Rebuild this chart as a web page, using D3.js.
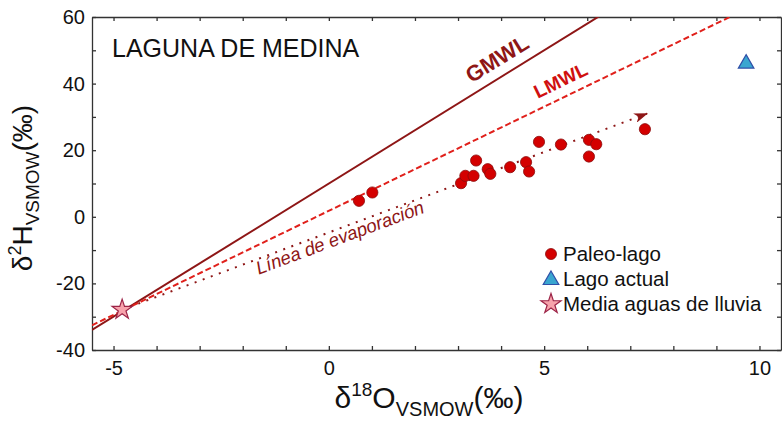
<!DOCTYPE html>
<html>
<head>
<meta charset="utf-8">
<script src="https://cdn.jsdelivr.net/npm/d3@7"></script>
<style>
  body { margin: 0; background: #fff; }
  svg { font-family: "Liberation Sans", Arial, sans-serif; }
  .axis path, .axis line { stroke: #333; stroke-width: 1.3; }
  .axis text { font-size: 20px; fill: #111; font-family: "Liberation Sans", Arial, sans-serif; }
</style>
</head>
<body>
<svg id="chart" width="782" height="421"></svg>
<script>
// paleo-lake samples
var paleoD18O = [0.70, 1.01, 3.07, 3.17, 3.36, 3.42, 3.69, 3.75, 4.21, 4.58, 4.65, 4.88, 5.39, 6.04, 6.21, 6.04, 7.34];
var paleoD2H  = [4.8, 7.3, 10.1, 12.3, 12.3, 16.9, 14.3, 12.9, 14.9, 16.4, 13.6, 22.5, 21.7, 23.1, 21.8, 18.1, 26.3];

var lakeNow = [9.69, 46.3];      // Lago actual
var rainMean = [-4.8, -27.9];    // Media aguas de lluvia
var evapEnd = [7.39, 31.0];      // end of evaporation line (arrow)

var gmwl = { slope: 8, intercept: 10 };
var lmwl = { slope: 6.25, intercept: 1.8 };

var xTicks = [-5, -4, -3, -2, -1, 0, 1, 2, 3, 4, 5, 6, 7, 8, 9, 10];
var xLabels = [-5, 0, 5, 10];
var yTicks = [-40, -30, -20, -10, 0, 10, 20, 30, 40, 50, 60];
var yLabels = [-40, -20, 0, 20, 40, 60];

var legendItems = ["Paleo-lago", "Lago actual", "Media aguas de lluvia"];

var DARKRED = "#8e1616",
    RED = "#e0201b";

var margin = { top: 17, right: 1, bottom: 71, left: 92 },
    w = 782, h = 421,
    width = w - margin.left - margin.right,
    height = h - margin.top - margin.bottom;

var x = d3.scaleLinear().domain([-5.5, 10.5]).range([0, width]);
var y = d3.scaleLinear().domain([-40, 60]).range([height, 0]);

var svg = d3.select("#chart");

var defs = svg.append("defs");
defs.append("clipPath")
    .attr("id", "plotclip")
  .append("rect")
    .attr("width", width)
    .attr("height", height);

defs.append("marker")
    .attr("id", "arrow")
    .attr("markerUnits", "userSpaceOnUse")
    .attr("viewBox", "0 0 14 10")
    .attr("refX", 13)
    .attr("refY", 5)
    .attr("markerWidth", 14)
    .attr("markerHeight", 10)
    .attr("orient", "auto")
  .append("path")
    .attr("d", "M0,0 L14,5 L0,10 L4,5 Z")
    .attr("fill", DARKRED);

var g = svg.append("g")
    .attr("transform", "translate(" + margin.left + "," + margin.top + ")");

// axes (all ticks point inward)
function fmt(list) {
    return function(d) { return list.indexOf(d) >= 0 ? String(d) : ""; };
}

g.append("g")
    .attr("class", "axis")
    .attr("transform", "translate(0," + height + ")")
    .call(d3.axisBottom(x).tickValues(xTicks).tickSizeInner(-4).tickSizeOuter(0)
        .tickPadding(11).tickFormat(fmt(xLabels)));

g.append("g")
    .attr("class", "axis")
    .call(d3.axisTop(x).tickValues(xTicks).tickSizeInner(-4).tickSizeOuter(0)
        .tickFormat(""));

g.append("g")
    .attr("class", "axis")
    .call(d3.axisLeft(y).tickValues(yTicks).tickSizeInner(-4).tickSizeOuter(0)
        .tickPadding(7).tickFormat(fmt(yLabels)));

g.append("g")
    .attr("class", "axis")
    .attr("transform", "translate(" + width + ",0)")
    .call(d3.axisRight(y).tickValues(yTicks).tickSizeInner(-4).tickSizeOuter(0)
        .tickFormat(""));

// meteoric water lines
var plot = g.append("g").attr("clip-path", "url(#plotclip)");
var xd = x.domain();

function mwl(p) {
    return [[xd[0], p.slope * xd[0] + p.intercept], [xd[1], p.slope * xd[1] + p.intercept]];
}
var line = d3.line()
    .x(function(d) { return x(d[0]); })
    .y(function(d) { return y(d[1]); });

plot.append("path")
    .attr("d", line(mwl(gmwl)))
    .attr("fill", "none")
    .attr("stroke", DARKRED)
    .attr("stroke-width", 2);

plot.append("path")
    .attr("d", line(mwl(lmwl)))
    .attr("fill", "none")
    .attr("stroke", RED)
    .attr("stroke-width", 2)
    .attr("stroke-dasharray", "6,3");

// evaporation line
plot.append("path")
    .attr("d", line([rainMean, evapEnd]))
    .attr("fill", "none")
    .attr("stroke", DARKRED)
    .attr("stroke-width", 2)
    .attr("stroke-dasharray", "2,6.6")
    .attr("marker-end", "url(#arrow)");

// line labels, rotated along their line
function angleOf(slope) {
    return Math.atan2(y(slope) - y(0), x(1) - x(0)) * 180 / Math.PI;
}

function lineLabel(text, xv, p, dy, anchor, style) {
    var yv = p.slope * xv + p.intercept;
    var t = g.append("text")
        .attr("transform", "translate(" + x(xv) + "," + y(yv) + ") rotate(" + angleOf(p.slope) + ")")
        .attr("dy", dy)
        .attr("text-anchor", anchor)
        .text(text);
    for (var k in style) t.style(k, style[k]);
}

lineLabel("GMWL", 4.12, gmwl, -10, "middle",
    { "font-size": "22px", "font-weight": "bold", fill: DARKRED });
lineLabel("LMWL", 5.55, lmwl, -10, "middle",
    { "font-size": "19px", "font-weight": "bold", fill: "#d01010" });

var evap = {
    slope: (evapEnd[1] - rainMean[1]) / (evapEnd[0] - rainMean[0]),
    intercept: 0
};
evap.intercept = rainMean[1] - evap.slope * rainMean[0];
lineLabel("Línea de evaporación", -1.75, evap, 15, "start",
    { "font-size": "18.5px", "font-style": "italic", fill: DARKRED });

// markers
var star = d3.symbol().type(d3.symbolStar).size(125);
var tri = d3.symbol().type(d3.symbolTriangle).size(105);

g.selectAll(".paleo")
    .data(d3.range(paleoD18O.length))
    .enter()
    .append("circle")
    .attr("class", "paleo")
    .attr("cx", function(i) { return x(paleoD18O[i]); })
    .attr("cy", function(i) { return y(paleoD2H[i]); })
    .attr("r", 5.6)
    .attr("fill", "#d40000")
    .attr("stroke", "#8a0d0d")
    .attr("stroke-width", 0.8);

g.append("path")
    .attr("d", tri())
    .attr("transform", "translate(" + x(lakeNow[0]) + "," + (y(lakeNow[1]) + 1) + ")")
    .attr("fill", "#3aa6d0")
    .attr("stroke", "#2f4fa8")
    .attr("stroke-width", 1.2);

g.append("path")
    .attr("d", star())
    .attr("transform", "translate(" + x(rainMean[0]) + "," + y(rainMean[1]) + ")")
    .attr("fill", "#f7a3ac")
    .attr("stroke", "#9c2447")
    .attr("stroke-width", 1.2);

// title
g.append("text")
    .attr("x", 20)
    .attr("y", 40)
    .style("font-size", "25px")
    .style("fill", "#111")
    .text("LAGUNA DE MEDINA");

// legend
var legend = g.append("g")
    .attr("transform", "translate(459,237)");

var legendSym = [
    function(s) { s.append("circle").attr("r", 5.5).attr("fill", "#d40000").attr("stroke", "#8a0d0d").attr("stroke-width", 0.8); },
    function(s) { s.append("path").attr("d", tri()).attr("transform", "translate(0,1)").attr("fill", "#3aa6d0").attr("stroke", "#2f4fa8").attr("stroke-width", 1.2); },
    function(s) { s.append("path").attr("d", star()).attr("fill", "#f7a3ac").attr("stroke", "#9c2447").attr("stroke-width", 1.2); }
];

legendItems.forEach(function(name, i) {
    var row = legend.append("g").attr("transform", "translate(0," + (i * 25) + ")");
    legendSym[i](row);
    row.append("text")
        .attr("x", 12)
        .attr("y", 7)
        .style("font-size", "20.5px")
        .style("fill", "#111")
        .text(name);
});

// axis titles
var xt = svg.append("text")
    .attr("x", 429)
    .attr("y", 408)
    .attr("text-anchor", "middle")
    .style("fill", "#111")
    .style("font-size", "30px");
xt.append("tspan").text("δ");
xt.append("tspan").attr("dy", -12).style("font-size", "19px").text("18");
xt.append("tspan").attr("dy", 12).text("O");
xt.append("tspan").attr("dy", 8).style("font-size", "20px").text("VSMOW");
xt.append("tspan").attr("dy", -8).text("(‰)");

var yt = svg.append("text")
    .attr("transform", "translate(32,188) rotate(-90)")
    .attr("text-anchor", "middle")
    .style("fill", "#111")
    .style("font-size", "28px");
yt.append("tspan").text("δ");
yt.append("tspan").attr("dy", -11).style("font-size", "18px").text("2");
yt.append("tspan").attr("dy", 11).text("H");
yt.append("tspan").attr("dy", 7).style("font-size", "19px").text("VSMOW");
yt.append("tspan").attr("dy", -7).text("(‰)");
</script>
</body>
</html>
